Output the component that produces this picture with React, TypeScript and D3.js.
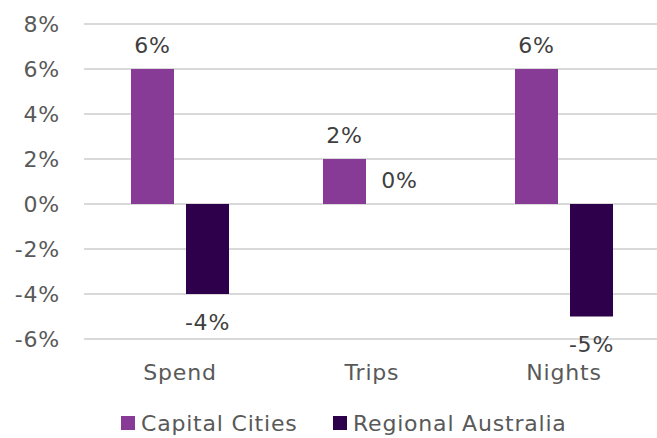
import { useEffect, useRef } from "react";
import * as d3 from "d3";

const categories = ["Spend", "Trips", "Nights"];
const seriesNames = ["Capital Cities", "Regional Australia"];
const capitalValues = [6, 2, 6];
const regionalValues = [-4, 0, -5];
const yTicks = [-6, -4, -2, 0, 2, 4, 6, 8];

const colors = ["#873A96", "#2E004B"];
const FONT = "Verdana, 'DejaVu Sans', sans-serif";
const FS = 22;
const LS = "0.8px";

export default function App() {
  const ref = useRef<SVGSVGElement | null>(null);

  useEffect(() => {
    if (!ref.current) return;
    const svg = d3.select(ref.current);
    svg.selectAll("*").remove();

    const x = d3.scaleBand().domain(categories).range([84, 660]);
    const inner = d3
      .scaleBand()
      .domain(seriesNames)
      .range([47, 145])
      .paddingInner(12 / 55);
    const y = d3.scaleLinear().domain([-6, 8]).range([339, 24]);

    const txt = (sel: d3.Selection<any, any, any, any>) =>
      sel
        .attr("font-family", FONT)
        .attr("font-size", FS)
        .attr("letter-spacing", LS)
        .attr("dy", "0.36em");

    // gridlines
    svg
      .append("g")
      .selectAll("line")
      .data(yTicks)
      .enter()
      .append("line")
      .attr("x1", 84)
      .attr("x2", 657)
      .attr("y1", (d) => y(d))
      .attr("y2", (d) => y(d))
      .attr("stroke", "#D9D9D9")
      .attr("stroke-width", 2);

    // y labels
    svg
      .append("g")
      .selectAll("text")
      .data(yTicks)
      .enter()
      .append("text")
      .attr("x", 60)
      .attr("y", (d) => y(d))
      .attr("text-anchor", "end")
      .attr("fill", "#595959")
      .call(txt)
      .text((d) => `${d}%`);

    const rows = categories.flatMap((c, i) => [
      { cat: c, s: seriesNames[0], v: capitalValues[i], k: 0 },
      { cat: c, s: seriesNames[1], v: regionalValues[i], k: 1 },
    ]);

    // bars
    svg
      .append("g")
      .selectAll("rect")
      .data(rows)
      .enter()
      .append("rect")
      .attr("x", (d) => (x(d.cat) as number) + (inner(d.s) as number))
      .attr("width", inner.bandwidth())
      .attr("y", (d) => y(Math.max(0, d.v)))
      .attr("height", (d) => Math.abs(y(d.v) - y(0)))
      .attr("fill", (d) => colors[d.k]);

    // value labels
    svg
      .append("g")
      .selectAll("text")
      .data(rows)
      .enter()
      .append("text")
      .attr("x", (d) => (x(d.cat) as number) + (inner(d.s) as number) + inner.bandwidth() / 2)
      .attr("y", (d) => (d.v < 0 ? y(d.v) + 28 : y(d.v) - 24))
      .attr("text-anchor", "middle")
      .attr("fill", "#404040")
      .call(txt)
      .text((d) => `${d.v}%`);

    // category labels
    svg
      .append("g")
      .selectAll("text")
      .data(categories)
      .enter()
      .append("text")
      .attr("x", (d) => (x(d) as number) + x.bandwidth() / 2)
      .attr("y", 372)
      .attr("text-anchor", "middle")
      .attr("fill", "#595959")
      .call(txt)
      .text((d) => d);

    // legend
    const legendX = [121, 333];
    const lg = svg
      .append("g")
      .selectAll("g")
      .data(seriesNames)
      .enter()
      .append("g")
      .attr("transform", (_, i) => `translate(${legendX[i]},423)`);
    lg.append("rect")
      .attr("x", 0)
      .attr("y", -7)
      .attr("width", 14)
      .attr("height", 14)
      .attr("fill", (_, i) => colors[i]);
    lg.append("text")
      .attr("x", 20)
      .attr("y", 0)
      .attr("fill", "#595959")
      .call(txt)
      .text((d) => d);
  }, []);

  return (
    <svg
      ref={ref}
      width={657}
      height={438}
      style={{ position: "absolute", left: 0, top: 0, background: "#fff" }}
    />
  );
}
